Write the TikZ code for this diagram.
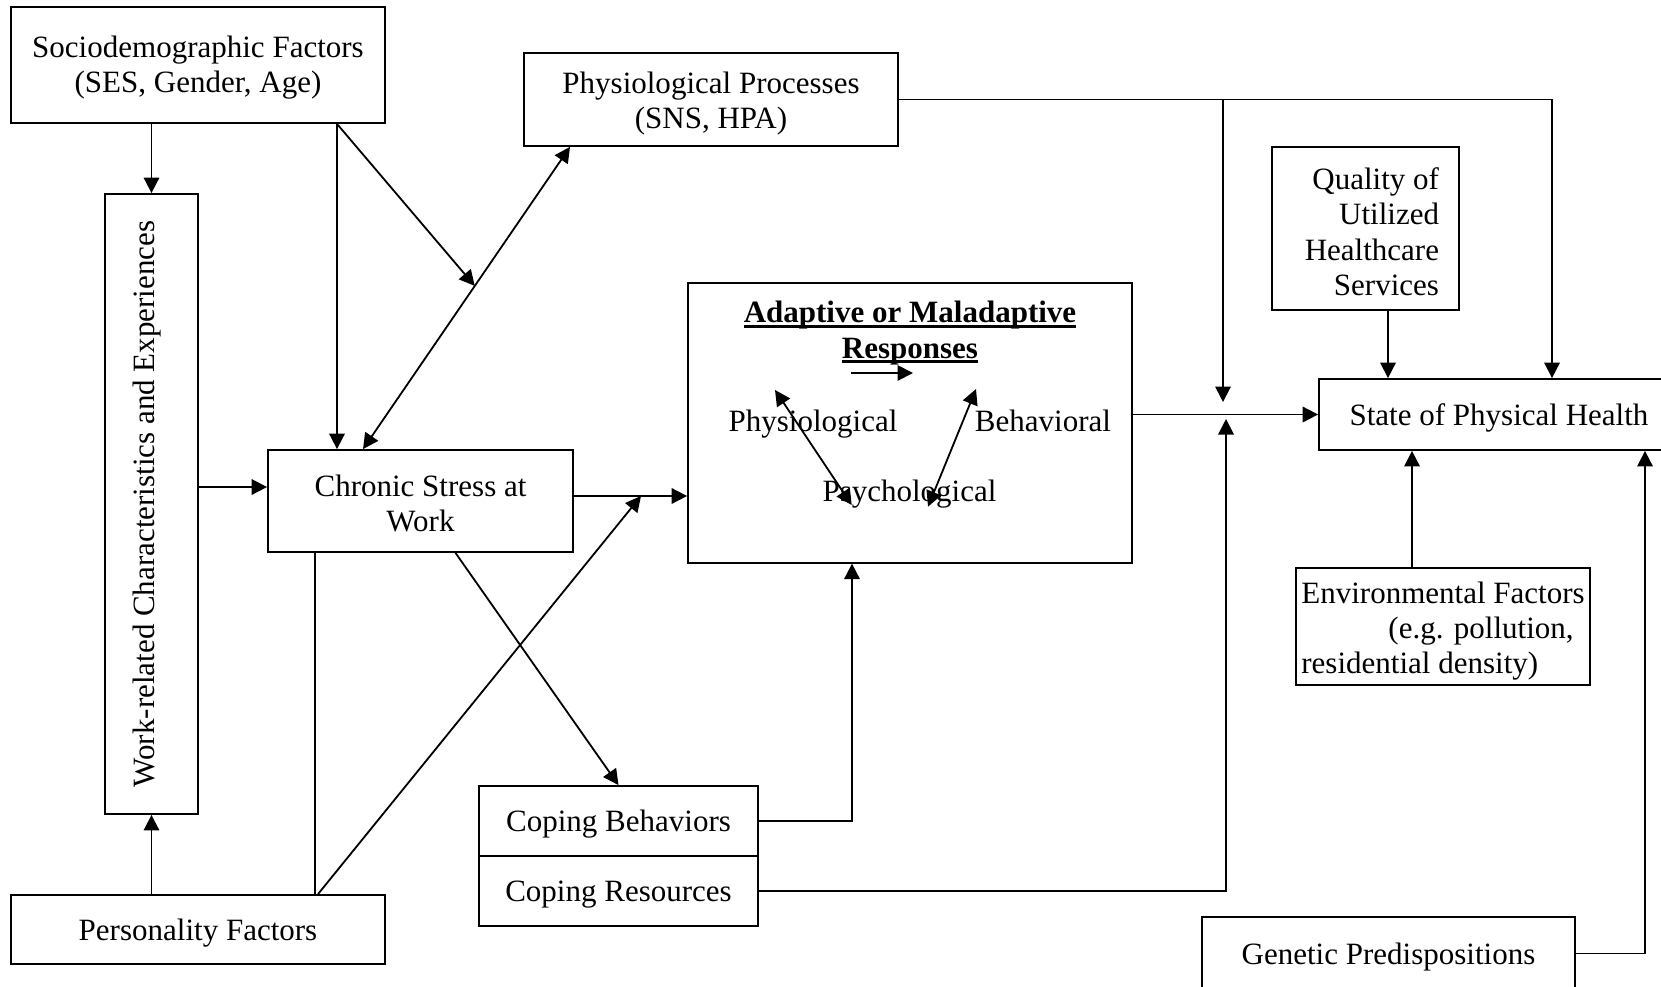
\documentclass[tikz,border=0pt]{standalone}
\usepackage{fontspec}
\setmainfont{Liberation Serif}
\usepackage{graphicx}
\newcommand{\uln}[1]{\setbox0\hbox{#1}\rlap{\rule[-1.8pt]{\wd0}{0.9pt}}\box0}
\newcommand{\tup}[1][10.2pt]{\rule{0pt}{#1}}
\usetikzlibrary{arrows.meta,calc}

\tikzset{
  box/.style n args={2}{draw, line width=0.7pt, minimum width=#1*0.387pt, minimum height=#2*0.387pt, inner sep=0pt, align=center, execute at begin node={\rule{0pt}{11pt}}},
  arr/.style={-{Triangle[length=6pt,width=6pt]}, line width=0.7pt},
  dbl/.style={{Triangle[length=6pt,width=6pt]}-{Triangle[length=6pt,width=6pt]}, line width=0.7pt},
  ln/.style={line width=0.7pt}
}

\begin{document}
\begin{tikzpicture}[x=0.387pt, y=-0.387pt, font=\fontsize{12}{13.6}\selectfont]
\useasboundingbox (0,0) rectangle (1661,986);

% boxes
\node[box={374}{116}] (socio) at (198,65) {\tup Sociodemographic Factors\\(SES, Gender, Age)};
\node[box={93}{620}] (work) at (151.5,504) {\rotatebox{90}{\raisebox{1.6pt}[\height][\depth]{Work-related Characteristics and Experiences}}};
\node[box={374}{69}] (pers) at (198,929.5) {Personality Factors};
\node[box={305}{102}] (chronic) at (420.5,501) {\tup Chronic Stress at\\Work};
\node[box={374}{93}] (physio) at (711,99.5) {\tup[11.2pt]Physiological Processes\\(SNS, HPA)};
\node[box={444}{280}] (resp) at (910,422.7) {};
\node[box={279}{70}] (cbeh) at (618.5,821) {Coping Behaviors};
\node[box={279}{70}] (cres) at (618.5,891) {Coping Resources};
\node[box={187}{163}, execute at begin node={}, align=flush right, text width=147*0.387pt, inner xsep=20*0.387pt] (qual) at (1365.5,228.5) {Quality of\\Utilized\\Healthcare\\Services};
\node[box={360}{71}] (health) at (1499,414.5) {State of Physical Health};
\node[box={294.5}{117}, align=left, inner xsep=2pt] (env) at (1443,626.5) {\tup[12pt]Environmental Factors\\\hspace*{33.7pt}(e.g. pollution,\\residential density)};
\node[box={373}{73}] (gen) at (1388.5,953.5) {Genetic Predispositions};

% inside the response box
\node[align=center] (ttl) at (910,333) {\uln{\textbf{Adaptive or Maladaptive}}\\\uln{\textbf{Responses}}};
\node[anchor=base] (phys) at (813,431) {Physiological};
\node[anchor=base] (beh) at (1043,431) {Behavioral};
\node[anchor=base] (psy) at (909.5,501) {Psychological};
\coordinate (t1) at (851,373);
\coordinate (t2) at (913,373);
\coordinate (a1) at (775,390);
\coordinate (a2) at (851.7,505);
\coordinate (b1) at (976,389);
\coordinate (b2) at (928,506.7);
\draw[arr] (t1) -- (t2);
\draw[dbl] (a1) -- (a2);
\draw[dbl] (b1) -- (b2);

% left side
\draw[arr] (socio.south -| work.north) -- (work.north);
\draw[arr] (socio.south -| 337,0) -- (chronic.north -| 337,0);
\coordinate (c1) at (chronic.north -| 363,0);
\coordinate (p1) at (physio.south -| 570,0);
\draw[dbl] (c1) -- (p1);
\coordinate (m1) at ($(c1)!0.54!(p1)$);
\draw[arr] (socio.south -| 337,0) -- (m1);
\draw[arr] (work.east |- 0,487) -- (chronic.west |- 0,487);
\draw[arr] (pers.north -| work.south) -- (work.south);
\draw[ln] (chronic.south -| 314.6,0) -- (pers.north -| 314.6,0);
\draw[arr] (chronic.east |- 0,496) -- (resp.west |- 0,496);
\coordinate (m2) at (641,496);
\draw[arr] (pers.north -| 318,0) -- (m2);
\draw[arr] (chronic.south -| 455.5,0) -- (cbeh.north);
\draw[arr] (cbeh.east) -| (resp.south -| 852,0);

% right side
\draw[arr] (resp.east |- health.west) -- (health.west);
\coordinate (j1) at (1223,402);
\coordinate (j2) at (1226,419);
\draw[arr] (cres.east) -| (j2);
\draw[arr] (physio.east) -| (health.north -| 1552,0);
\draw[arr] (physio.east -| j1) -- (j1);
\draw[arr] (qual.south -| 1388,0) -- (health.north -| 1388,0);
\draw[arr] (env.north -| 1412,0) -- (health.south -| 1412,0);
\draw[arr] (gen.east) -| (health.south -| 1645,0);
\end{tikzpicture}
\end{document}
